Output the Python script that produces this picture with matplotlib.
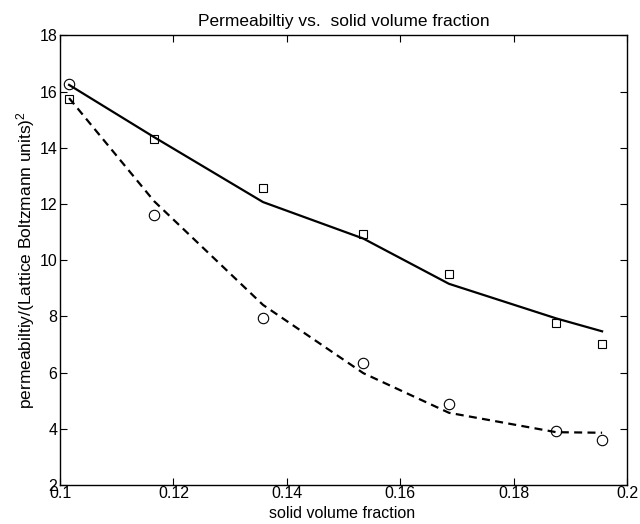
import matplotlib.pyplot as plt

plt.rcParams['font.family'] = ['Liberation Sans', 'DejaVu Sans']
plt.rcParams['mathtext.fontset'] = 'custom'
plt.rcParams['mathtext.rm'] = 'Liberation Sans'
plt.rcParams['mathtext.it'] = 'Liberation Sans'

# fraccion de volumen solido
fraccion = [0.1016, 0.1166, 0.1358, 0.1535, 0.1686, 0.1875, 0.1956]

# datos medidos
perm_cuadrados = [15.73, 14.33, 12.56, 10.94, 9.52, 7.76, 7.02]
perm_circulos = [16.26, 11.60, 7.94, 6.36, 4.88, 3.93, 3.60]

# curvas ajustadas
ajuste_continuo = [16.24, 14.38, 12.07, 10.77, 9.16, 7.93, 7.47]
ajuste_discontinuo = [15.77, 12.10, 8.41, 5.98, 4.57, 3.88, 3.86]

fig = plt.figure(figsize=(6.4, 5.24), dpi=100)
ax = fig.add_axes([0.09375, 0.0744, 0.886, 0.858])

ax.plot(fraccion, ajuste_continuo, color='black', linewidth=1.6)
ax.plot(fraccion, ajuste_discontinuo, color='black', linewidth=1.6,
        linestyle=(0, (3.6, 2.4)))
ax.plot(fraccion, perm_cuadrados, linestyle='none', marker='s',
        markersize=6, markerfacecolor='none', markeredgecolor='black',
        markeredgewidth=0.8)
ax.plot(fraccion, perm_circulos, linestyle='none', marker='o',
        markersize=7.5, markerfacecolor='none', markeredgecolor='black',
        markeredgewidth=0.8)

ax.set_xlim(0.1, 0.2)
ax.set_ylim(2, 18)
ax.set_xticks([0.1, 0.12, 0.14, 0.16, 0.18, 0.2])
ax.set_xticklabels(['0.1', '0.12', '0.14', '0.16', '0.18', '0.2'])
ax.set_yticks(range(2, 19, 2))
ax.tick_params(direction='in', top=True, right=True, length=5,
               width=0.8, labelsize=11.5, pad=1)
ax.tick_params(axis='y', pad=2)
for lado in ax.spines.values():
    lado.set_linewidth(1.0)

ax.set_title('Permeabiltiy vs.  solid volume fraction', fontsize=12.5, pad=7)
ax.set_xlabel('solid volume fraction', fontsize=11.5)
ax.xaxis.set_label_coords(0.497, -0.047)
ax.set_ylabel('permeabiltiy/(Lattice Boltzmann units)$^2$', fontsize=12.5,
              labelpad=2)

fig.savefig('out.png', dpi=100)
